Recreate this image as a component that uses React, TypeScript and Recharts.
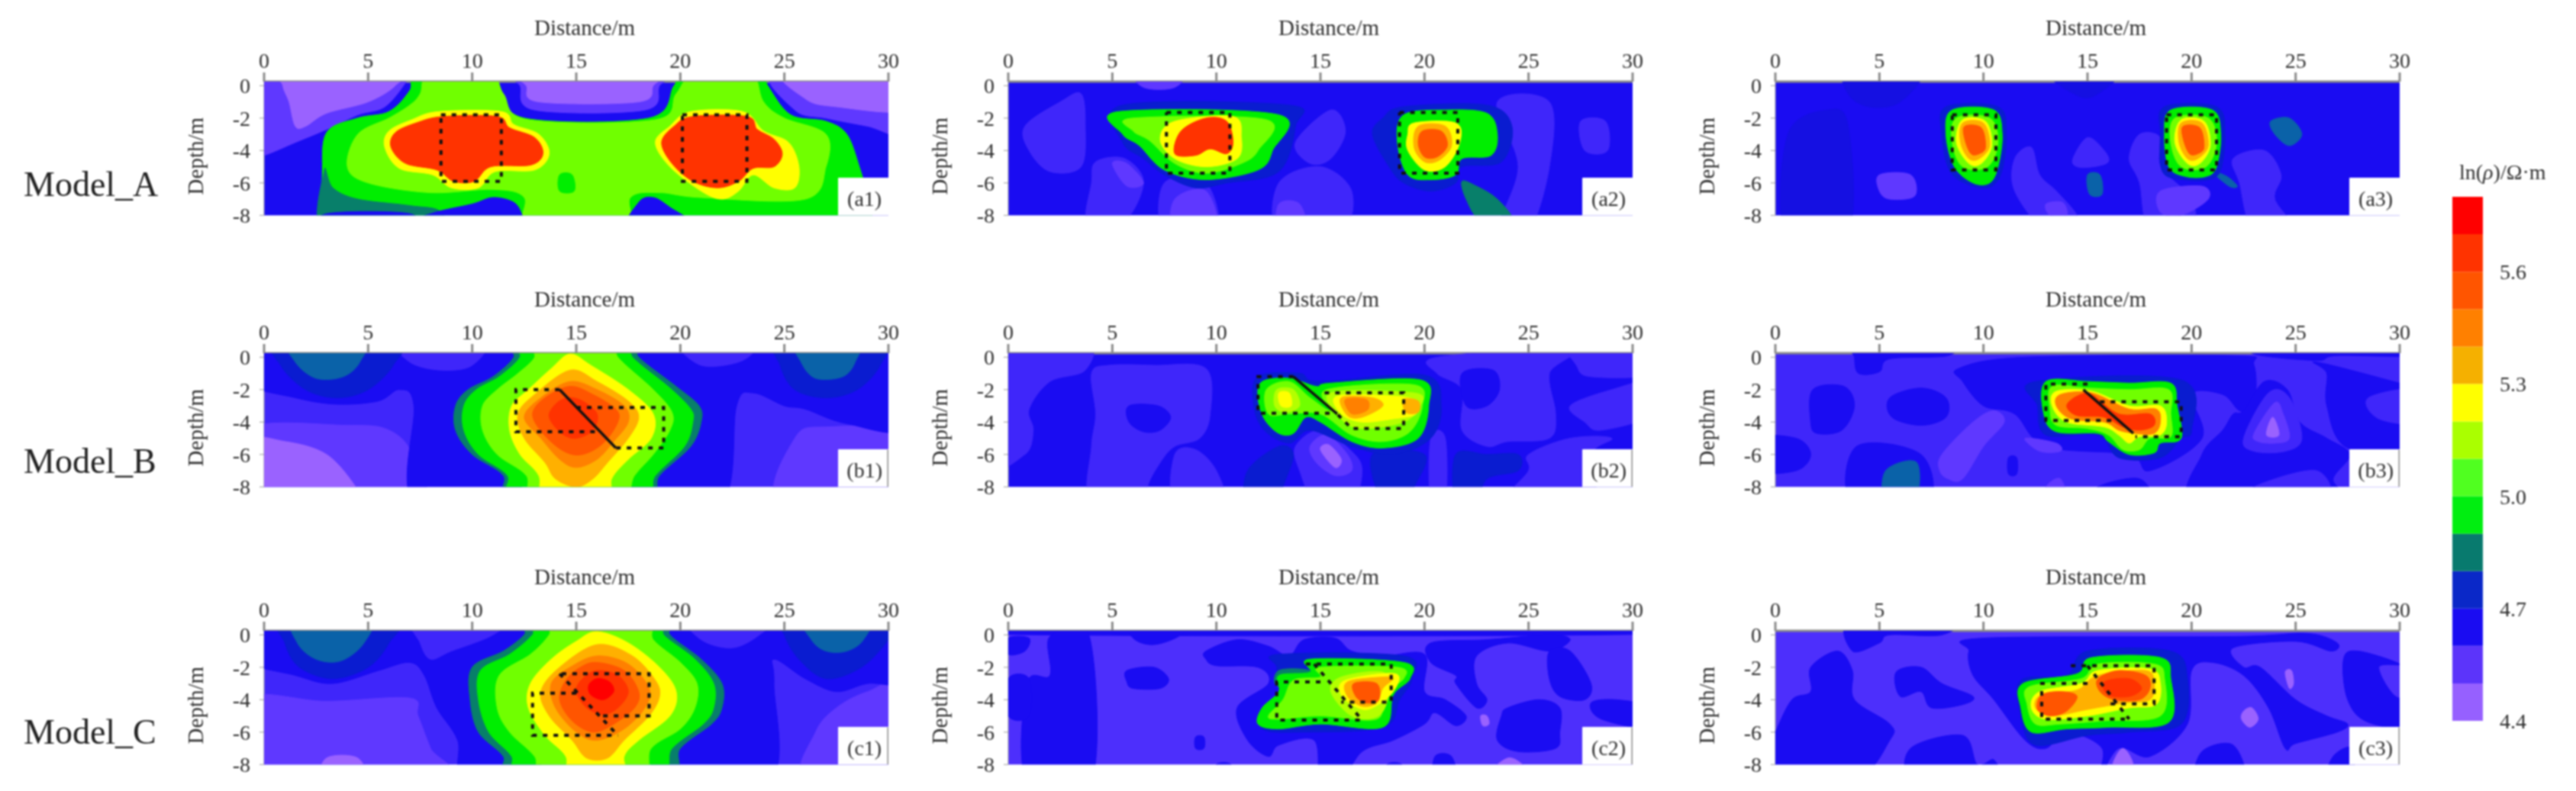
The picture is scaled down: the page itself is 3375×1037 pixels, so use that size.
import { Bar, BarChart, CartesianGrid, Scatter, ScatterChart, XAxis, YAxis } from "recharts";

// Colour levels of the contour maps, lowest to highest
const FILL: Record<string, string> = {
  v1: "#9a62ff",
  v2: "#5f38ff",
  v3: "#4d2ffc",
  m: "#3f26fa",
  b1: "#1a0cf2",
  b3: "#1510e2",
  b2: "#0a1cd0",
  t2: "#0a62a8",
  t: "#087f6a",
  g1: "#00ee00",
  g2: "#70ff00",
  g3: "#b4ff00",
  y: "#ffff00",
  a: "#ffb000",
  o: "#ff8000",
  r1: "#ff5500",
  r2: "#ff3300",
  r3: "#ff0000",
};

type Pt = number[];
type Ring = [string, Pt[]];

const xTicks = [0, 5, 10, 15, 20, 25, 30];
const yTicks = [0, -2, -4, -6, -8];
const colorbarColors = ["#9660ff", "#5c34fa", "#1a0cf2", "#0a28c8", "#087a6e", "#00ee10", "#50ff20", "#aaff00", "#ffff00", "#f5b000", "#ff8000", "#ff5500", "#ff3300", "#ff0000"];
const colorbarSteps = [4.5, 0.1, 0.1, 0.1, 0.1, 0.1, 0.1, 0.1, 0.1, 0.1, 0.1, 0.1, 0.1, 0.1];
const colorbarTicks = [4.4, 4.7, 5.0, 5.3, 5.6];
const modelNames = ["Model_A", "Model_B", "Model_C"];

const a1Rings: Ring[] = [
  ["v2", [[-1, 1], [7, 1], [6.8, 0.2], [5.8, -1.3], [4.5, -1.8], [3, -2.7], [1.5, -3.5], [0, -4.3], [-1, -4.5]]],
  ["v1", [[1, 1], [6.5, 1], [6.3, 0], [5, -1], [3, -1.7], [2, -2.5], [1.5, -2.5], [1.2, -1], [0.9, 0]]],
  ["v2", [[12, 1], [19.5, 1], [19, 0], [18.3, -1.5], [13, -1.5], [12.3, 0]]],
  ["v1", [[12.3, 1], [19, 1], [18.7, 0], [18, -1], [13.2, -1], [12.6, 0]]],
  ["v2", [[24.5, 1], [31, 1], [31, -3], [29, -2.5], [27, -2], [25.5, -1.5]]],
  ["v1", [[25, 1], [31, 1], [31, -1.5], [27.5, -1.3], [26, -0.8]]],
  ["g1", [[7.4, 1], [7, -0.3], [6, -1.6], [4.5, -2], [3, -2.9], [2.8, -5.5], [2.8, -8], [2.9, -9.5], [8, -10], [25, -10], [29, -9.5], [29, -7], [28.6, -5], [28, -3], [27, -2.2], [25.3, -1.8], [24.2, 0], [23.8, 1], [20.3, 1], [19.7, 0], [18.5, -2], [12.5, -2], [11.3, 0], [11, 1]]],
  ["g2", [[8, 1], [7.5, -0.5], [7, -1.2], [6, -2], [4.5, -3], [4, -5], [5, -6], [8, -6.6], [11, -6.4], [12.5, -6.9], [12.7, -9], [17.3, -9], [17.6, -6.9], [19, -6.6], [21, -6.9], [26, -7], [27, -5], [27, -3], [25, -2], [24, -1], [23.3, 1], [20.8, 1], [19.8, -0.5], [18.8, -2.1], [12.7, -2.1], [11.5, -0.5], [10.8, 1]]],
  ["g1", [[14.2, -5.5], [14.8, -5.5], [14.9, -6.5], [14.2, -6.5]]],
  ["t", [[2.9, -5.2], [3.3, -6.3], [4.5, -7], [7, -7.4], [8.5, -7.8], [8.5, -9.5], [3, -9.5]]],
  ["b1", [[6, -9], [8, -7.9], [10, -7.3], [11, -6.9], [12, -7.2], [12.4, -8], [12.6, -9]]],
  ["b1", [[3, -9], [3, -7.9], [7, -7.9], [7, -9]]],
  ["b1", [[17.5, -9], [18, -7.2], [18.7, -6.9], [19.5, -7.5], [21, -9]]],
  ["y", [[8.4, -1.6], [11.4, -1.6], [12, -2.4], [13.2, -3], [13.7, -4.2], [13, -5.2], [11.1, -5.3], [10.3, -6.3], [9, -6.3], [8.1, -5.5], [6.5, -5.1], [5.8, -3.8], [6, -2.8], [7.1, -2.1]]],
  ["r2", [[8.6, -1.9], [11.2, -1.9], [11.8, -2.6], [13, -3.2], [13.4, -4.2], [12.8, -4.9], [10.9, -5], [10.1, -5.9], [9.1, -5.9], [8.3, -5.2], [6.8, -4.8], [6.1, -3.8], [6.3, -2.9], [7.3, -2.3]]],
  ["y", [[20.5, -1.6], [23, -1.6], [24, -2.8], [25.2, -3.5], [25.7, -5], [25.5, -6.3], [24.5, -6.3], [23.5, -5.5], [22.8, -6.5], [22, -7], [21, -6.5], [19.5, -5], [18.8, -3.5], [19.5, -2.5]]],
  ["r2", [[20.6, -1.9], [23.2, -1.9], [23.7, -2.7], [24.5, -3.3], [24.9, -4.2], [24.5, -5], [23.5, -5.1], [22.8, -5.9], [21.8, -6.3], [20.6, -5.9], [19.6, -4.8], [19.1, -3.5], [19.7, -2.5]]],
];
const a1Boxes: Pt[][] = [
  [[8.5, -1.8], [11.4, -1.8], [11.4, -5.9], [8.5, -5.9], [8.5, -1.8]],
  [[20.1, -1.8], [23.2, -1.8], [23.2, -5.9], [20.1, -5.9], [20.1, -1.8]],
];

const a2Rings: Ring[] = [
  ["m", [[0.8, -2.5], [2.5, -1], [3.5, -0.5], [3.7, -2.5], [3.5, -5], [2, -5.3], [1, -4]]],
  ["m", [[4.2, -4.7], [5.6, -4.5], [6.5, -6], [5.5, -8.5], [3.8, -8.5], [4, -6]]],
  ["m", [[7.5, -6], [9.5, -6], [10, -9], [7.5, -9]]],
  ["m", [[13.8, -3.5], [15.5, -1.5], [16.2, -2.8], [15.5, -4.5], [14.5, -4.8]]],
  ["m", [[13, -6], [15, -5], [16.5, -6.5], [16, -9], [13, -9]]],
  ["m", [[23.5, -1], [26, -1], [26, -5], [25, -9], [23.5, -9], [24.5, -5]]],
  ["m", [[27.5, -2.2], [28.7, -2.2], [28.8, -4], [27.7, -4]]],
  ["v2", [[6, 1], [8.5, 1], [8, -0.1], [6.5, -0.1]]],
  ["v2", [[5, -4.8], [5.7, -4.8], [6.5, -6], [5.7, -6.2]]],
  ["v2", [[8, -7], [9.5, -6.5], [10, -9], [8, -9]]],
  ["v2", [[13, -7.3], [14, -7.3], [14.3, -9], [13, -9]]],
  ["b2", [[5.5, -1.2], [13.5, -1.2], [13.8, -2.5], [13, -5.3], [10.5, -6], [9, -6.3], [7.5, -5.5], [6.5, -4.5], [5.5, -3.5]]],
  ["g1", [[5.3, -1.6], [13, -1.8], [12.7, -4], [12, -5.2], [9.5, -5.8], [7.5, -5.2], [6.3, -3.7], [5.5, -3]]],
  ["g2", [[6, -2], [12.4, -2.1], [12, -4], [11.2, -4.8], [9.5, -5.4], [8, -4.8], [6.8, -3.4], [6, -2.8]]],
  ["y", [[8, -2.2], [10.8, -1.9], [11.2, -3.2], [11, -4.5], [9.5, -5], [8, -4.5], [7.3, -3.3]]],
  ["r2", [[8.3, -2.8], [9.5, -2], [10.5, -2.2], [10.8, -3.5], [10.5, -4.2], [9.7, -3.9], [9, -4.3], [8, -4.2]]],
  ["b2", [[19, -1.3], [23, -1.2], [24.2, -2.5], [23.7, -4.7], [21.8, -5], [21.5, -6], [20.3, -6.5], [19, -6], [18.3, -5], [17.5, -3], [18, -2]]],
  ["g1", [[19, -1.8], [21, -1.5], [23, -1.7], [23.5, -3], [23.2, -4.3], [21.8, -4.5], [21.5, -5.5], [20.3, -5.8], [19.2, -5.5], [18.7, -3.5]]],
  ["y", [[19.5, -2.3], [21.5, -2.3], [21.7, -3.5], [21, -5], [20, -5.2], [19.2, -4], [19.2, -3]]],
  ["a", [[19.7, -2.5], [21, -2.5], [21.3, -3.7], [20.7, -4.6], [20, -4.7], [19.5, -3.8]]],
  ["r1", [[19.9, -2.8], [20.8, -2.8], [21.1, -3.7], [20.6, -4.4], [20, -4.4], [19.7, -3.6]]],
  ["t", [[21.8, -5.9], [22.5, -6.2], [23.5, -7], [24.2, -8.3], [22.7, -8.3], [22, -7]]],
];
const a2Boxes: Pt[][] = [
  [[7.6, -1.65], [10.65, -1.65], [10.65, -5.4], [7.6, -5.4], [7.6, -1.65]],
  [[18.8, -1.65], [21.6, -1.65], [21.6, -5.4], [18.8, -5.4], [18.8, -1.65]],
];

const a3Rings: Ring[] = [
  ["b3", [[3.5, 1], [7, 1], [6, -1], [4.5, -1.3], [3.5, -0.5]]],
  ["b3", [[13, 1], [16.5, 1], [15.5, -0.5], [14.5, -0.6]]],
  ["b3", [[0.6, -3], [2.5, -1.5], [3.5, -2.5], [3.5, -9], [0.5, -9]]],
  ["m", [[14.3, -4.5], [15, -3.2], [15.8, -4], [16, -4.7], [15.3, -5], [14.5, -5]]],
  ["m", [[17, -4.5], [17.5, -3], [18.5, -3.2], [18.5, -5], [20, -7], [20, -9], [18, -9], [17.5, -6]]],
  ["m", [[22, -4.5], [23.5, -4], [24.3, -5.5], [24, -7], [25, -9], [23, -9], [22.3, -6]]],
  ["m", [[11.5, -4.5], [12.3, -3.8], [12.7, -5.5], [13.5, -6.5], [14.5, -8], [14.5, -9], [13, -9], [11.5, -6.5]]],
  ["v2", [[5, -5.5], [6.5, -5.5], [6.7, -6.8], [5.5, -7], [5, -6.5]]],
  ["v2", [[18.5, -6.5], [20.5, -6.2], [20.8, -7], [19.5, -8], [18.5, -7.8]]],
  ["v2", [[13, -7.3], [13.8, -7.2], [14, -8], [13.2, -8]]],
  ["t2", [[23.8, -2.2], [24.7, -2], [25.3, -3], [24.7, -3.7], [24, -3]]],
  ["t2", [[15, -5.5], [15.6, -5.5], [15.7, -6.7], [15.1, -6.7]]],
  ["t2", [[21, -5.3], [21.7, -5.6], [22.2, -6.2], [21.8, -6.2]]],
  ["b2", [[8.2, -1.3], [10.7, -1.3], [11.1, -3], [10.9, -5.2], [10.4, -6.2], [9.5, -6.2], [8.4, -5.3], [8, -3]]],
  ["g1", [[8.5, -1.5], [10.5, -1.5], [10.9, -3], [10.7, -5], [10.3, -6], [9.5, -6], [8.6, -5], [8.2, -3]]],
  ["g2", [[8.7, -2], [10.3, -2], [10.7, -3.5], [10.2, -5], [9, -5], [8.5, -3.5]]],
  ["y", [[9, -2.1], [10.1, -2.2], [10.4, -3.7], [9.9, -4.8], [9.3, -4.8], [8.7, -3.5]]],
  ["a", [[9, -2.3], [10, -2.3], [10.3, -3.7], [9.8, -4.5], [9.3, -4.5], [8.9, -3.5]]],
  ["r1", [[9.1, -2.5], [9.9, -2.6], [10.1, -3.8], [9.8, -4.2], [9.4, -4.2], [9.1, -3.3]]],
  ["b2", [[18.7, -1.3], [21.2, -1.3], [21.6, -3], [21.4, -5.2], [20.8, -5.8], [19.6, -5.8], [18.6, -5.3], [18.5, -3]]],
  ["g1", [[19, -1.5], [21, -1.5], [21.4, -3], [21.2, -5], [20.7, -5.6], [19.7, -5.6], [18.9, -5], [18.7, -3]]],
  ["g2", [[19.2, -2], [20.8, -2], [21.2, -3.5], [20.7, -5], [19.5, -5], [19, -3.5]]],
  ["y", [[19.5, -2.1], [20.6, -2.2], [20.9, -3.7], [20.4, -4.8], [19.8, -4.8], [19.2, -3.5]]],
  ["a", [[19.5, -2.3], [20.5, -2.3], [20.8, -3.7], [20.3, -4.5], [19.8, -4.5], [19.4, -3.5]]],
  ["r1", [[19.6, -2.5], [20.4, -2.6], [20.6, -3.8], [20.3, -4.2], [19.9, -4.2], [19.6, -3.3]]],
];
const a3Boxes: Pt[][] = [
  [[8.5, -1.8], [10.6, -1.8], [10.6, -5.2], [8.5, -5.2], [8.5, -1.8]],
  [[18.8, -1.8], [21.2, -1.8], [21.2, -5.2], [18.8, -5.2], [18.8, -1.8]],
];

const b1Rings: Ring[] = [
  ["v2", [[-1, -4.5], [4, -4.2], [6, -4.5], [7.1, -6], [7.2, -9], [-1, -9]]],
  ["v2", [[24.8, -9], [25.5, -5], [27, -4.3], [31, -4.8], [31, -9]]],
  ["v1", [[-1, -5.2], [1, -5.2], [3, -6], [4.4, -8], [4.6, -9], [-1, -9]]],
  ["b1", [[-1, 1], [12, 1], [12, -9], [7.2, -9], [7.2, -3], [6.5, -2], [5.5, -2.7], [3.5, -2.9], [1.5, -2.5], [-1, -1.5]]],
  ["b1", [[18, 1], [31, 1], [31, -4.3], [28, -4.1], [26, -3.2], [25, -3], [23.5, -2.2], [22.7, -3], [22, -9], [18, -9]]],
  ["m", [[6.5, 1], [10.5, 1], [10, -0.5], [8.5, -0.8], [7, -0.3]]],
  ["m", [[20, 1], [23.5, 1], [23, -0.2], [21, -0.5]]],
  ["b2", [[0.7, 1], [6.3, 1], [6.2, -0.5], [5, -2], [3.5, -2.5], [2, -2], [0.8, -0.5]]],
  ["t2", [[1.3, 1], [4.7, 1], [4.6, -0.3], [3.8, -1.2], [2.5, -1.3], [1.5, -0.3]]],
  ["b2", [[24.8, 1], [29.6, 1], [29.6, -0.5], [28.5, -2], [27, -2.5], [25.5, -2], [24.8, -0.5]]],
  ["t2", [[25.6, 1], [28.5, 1], [28.4, -0.3], [27.8, -1.2], [26.5, -1.3], [25.8, -0.3]]],
  ["t", [[12, 1], [17.7, 1], [18, 0], [19.8, -1.8], [20.9, -3], [21, -4], [20.5, -5.5], [19, -7.3], [18.2, -9], [11.9, -9], [11.5, -7.3], [10, -6], [9.2, -4.5], [9.2, -3], [9.8, -2], [11, -1.2], [12, 0]]],
  ["g1", [[12.3, 1], [17.5, 1], [17.7, 0], [19.5, -1.9], [20.5, -3.2], [20.6, -4], [20.2, -5.5], [18.8, -7.3], [18, -9], [12, -9], [11.7, -7.3], [10.3, -6], [9.6, -4.5], [9.6, -3], [10.2, -2], [11.3, -1.2], [12.3, 0]]],
  ["g2", [[13, 1], [16.8, 1], [17, 0], [18.7, -2], [19.6, -3.4], [19.5, -4.5], [18.7, -6], [17.8, -7.3], [17, -9], [13, -9], [12.6, -7.3], [11.2, -6], [10.5, -4.5], [10.5, -3], [11.2, -2], [12.2, -1], [13, 0]]],
  ["y", [[14.7, 0.2], [15.7, -0.5], [17.5, -2], [18.7, -3.5], [18.6, -5], [17.5, -6.3], [16.7, -7.5], [16.5, -9], [13.5, -9], [13.2, -7.3], [12.3, -6], [11.8, -4.5], [11.9, -3], [12.7, -2], [13.8, -0.7]]],
  ["a", [[14.7, -0.8], [16, -1.5], [17.5, -2.7], [18, -3.7], [17.5, -5], [16.5, -6.5], [15.8, -7.5], [15, -8], [14, -7.5], [13.5, -6.5], [12.5, -5], [12.2, -3.5], [13, -2.3]]],
  ["o", [[14.7, -1.5], [16, -2], [17.3, -3], [17.5, -4], [16.8, -5.2], [16, -6.3], [15, -6.8], [14.2, -6.3], [13.3, -5], [12.5, -3.7], [13.3, -2.5]]],
  ["r1", [[14.7, -1.8], [15.8, -2.3], [16.9, -3.2], [17, -4], [16.3, -5.3], [15.3, -6], [14.4, -5.8], [13.4, -4.7], [12.9, -3.5], [13.5, -2.5]]],
  ["r2", [[14.6, -2.5], [15.3, -2.7], [16, -3.5], [15.8, -4.5], [15, -5], [14.3, -4.7], [13.7, -3.7], [14, -2.9]]],
];
const b1Boxes: Pt[][] = [
  [[14.2, -2], [12.1, -2], [12.1, -4.6], [16.1, -4.6]],
  [[15, -3.1], [19.2, -3.1], [19.2, -5.6], [16.9, -5.6]],
];
const b1Faults: Pt[][] = [[[14.2, -2], [16.9, -5.6]]];

const b2Rings: Ring[] = [
  ["m", [[-1, 1], [3.7, 1], [3.7, -0.8], [2, -1.5], [1, -3.2], [1.2, -4.5], [0.8, -6], [-1, -6.5]]],
  ["m", [[4, -1], [4.8, -0.5], [7, -0.5], [9.5, -0.7], [9.7, -3.5], [9.2, -5], [8, -5.5], [7.3, -6.5], [6.7, -8], [7, -9], [4, -9], [4, -5.5], [4.2, -3.5]]],
  ["b1", [[5.8, -3], [7.2, -3], [7.8, -3.7], [7.3, -4.5], [6.5, -4.6], [5.8, -4]]],
  ["m", [[8, -6], [9, -5.7], [10, -7], [10.3, -9], [8, -9]]],
  ["m", [[20.6, 0], [27, 0.5], [26, -1], [26.3, -3.5], [26, -5], [24, -5.2], [23, -5.5], [21.8, -4.5], [21.8, -2], [20.6, -1]]],
  ["b1", [[21.8, -1], [23.3, -0.8], [23.6, -2], [23, -3], [22, -3]]],
  ["m", [[27, 1], [31, 1], [31, -1], [28, -1.2], [27.3, -0.5]]],
  ["m", [[27, -3], [29, -2], [31, -1.5], [31, -3.5], [28.5, -4.5], [27.7, -4]]],
  ["m", [[25, -6], [27, -5], [29, -5], [28, -6], [28, -9], [24, -9], [25, -7]]],
  ["m", [[20.3, -5], [21, -5], [21, -9], [20.3, -9]]],
  ["m", [[13.8, -5.5], [15, -4.5], [16.5, -5.8], [17, -7], [16.5, -9], [14.8, -9], [14, -7]]],
  ["v2", [[14.5, -5.5], [15.3, -4.8], [16.3, -6], [16.5, -7], [15.7, -7.3], [14.8, -6.5]]],
  ["v1", [[15, -5.7], [15.4, -5.4], [16, -6.3], [15.7, -6.8]]],
  ["b2", [[11.5, -7], [13, -5.5], [13.7, -6], [13.2, -8], [13, -9], [11.5, -9]]],
  ["b2", [[17.5, -6], [20, -6], [19.5, -8], [19, -9], [18, -9]]],
  ["b2", [[21.5, -6], [23, -6], [24.5, -6], [24.5, -7], [23, -7.5], [22.5, -9], [21.5, -9]]],
  ["b2", [[12, -1.2], [14, -1], [15, -1.5], [20, -1.1], [20.8, -3], [20.3, -5], [18.5, -6], [16.5, -5.5], [14.5, -4.5], [13.5, -5.3], [12.3, -4.5], [11.8, -3]]],
  ["g1", [[12.2, -1.5], [13.5, -1.3], [14.8, -1.8], [15.5, -1.6], [19.8, -1.4], [20.2, -3], [19.7, -5], [18, -5.6], [16.5, -5.2], [15, -4], [14.3, -3.7], [13.7, -4.7], [13, -4.7], [12.3, -3.8], [12, -2.5]]],
  ["g2", [[12.4, -2], [13.5, -1.5], [14.5, -2.5], [15.5, -3.3], [15.3, -2], [19.5, -1.7], [19.9, -3], [19.3, -4.6], [18, -5.2], [16.5, -4.8], [15, -3.5], [13.5, -3.5], [12.5, -3.5]]],
  ["g3", [[12.9, -2], [13.7, -2], [14, -3], [13.3, -3.4], [12.8, -3]]],
  ["y", [[13, -2.2], [13.5, -2.2], [13.6, -3], [13.1, -3]]],
  ["g3", [[15.5, -2.2], [19.5, -2.2], [19.8, -3], [19, -4], [17, -4.4], [16, -3.8]]],
  ["y", [[15.8, -2.4], [18.5, -2.4], [19.6, -2.7], [19.6, -3.5], [18.5, -3.8], [17, -4], [16, -3.5]]],
  ["a", [[16, -2.5], [17.5, -2.5], [18, -3], [17, -3.7], [16.3, -3.6]]],
  ["o", [[16.2, -2.6], [17.2, -2.6], [17.3, -3.2], [16.8, -3.5], [16.4, -3.4]]],
  ["a", [[19, -2.6], [19.7, -2.7], [19.7, -3.4], [19.1, -3.4]]],
];
const b2Boxes: Pt[][] = [
  [[13.7, -1.2], [12, -1.2], [12, -3.45], [15.8, -3.45]],
  [[15.2, -2.2], [19, -2.2], [19, -4.4], [16.5, -4.4], [15.8, -3.5]],
];
const b2Faults: Pt[][] = [[[13.7, -1.2], [15.8, -3.5]]];

const b3Rings: Ring[] = [
  ["b1", [[8.8, -0.7], [12, 0], [22, 0.1], [23, -0.5], [23, -3.2], [22.3, -3.3], [21.5, -2.3], [20, -2.3], [20.5, -5], [18, -7], [17, -6], [13, -5.5], [11.5, -3.5], [10, -3], [9, -1.5]]],
  ["b1", [[3.8, 1], [8.5, 1], [8.3, 0.1], [5.5, -0.1], [5, -0.9], [4, -1], [3.8, 0]]],
  ["b1", [[23, 1], [31, 1], [31, 0.1], [27, 0.1], [26, -0.2], [23, 0.2]]],
  ["b1", [[26, -0.3], [30, -1.6], [31, -2], [31, -5.8], [27.5, -5.6], [26.5, -3], [26.5, -1]]],
  ["m", [[28.5, -2.5], [31, -2], [31, -4], [29, -3.8]]],
  ["b1", [[22.5, -3.3], [23.5, -1.5], [24.6, -2], [25.2, -4], [26.5, -5], [27.6, -6], [26.8, -7.5], [27, -9], [20.2, -9], [20.5, -6], [21.5, -4.5], [22, -3.5]]],
  ["m", [[23, -8], [26, -7], [26.5, -9], [22.8, -9]]],
  ["m", [[22.5, -5], [23.7, -2.2], [24.7, -2.5], [25.3, -5], [24.5, -5.8], [23, -5.8]]],
  ["v2", [[23, -4.7], [24, -2.8], [24.4, -3.5], [24.7, -5], [24, -5.3], [23.2, -5.2]]],
  ["v1", [[23.6, -4.8], [23.9, -3.7], [24.2, -4.8]]],
  ["b1", [[1.8, -2], [3.3, -1.8], [3.8, -3], [3.2, -4.5], [2, -4.7], [1.7, -4]]],
  ["b1", [[5.5, -2.5], [7, -1.9], [8.2, -2.5], [8.2, -3.7], [7, -4.2], [5.6, -3.7]]],
  ["b1", [[-1, -5], [1, -5], [1.7, -6], [1, -7], [-1, -7]]],
  ["b1", [[3.9, -5.5], [7, -6], [7.3, -9], [3.7, -9]]],
  ["t2", [[5.3, -7], [6.8, -6.5], [6.7, -9], [5.3, -9]]],
  ["b1", [[11.2, -6.2], [11.6, -6.2], [11.6, -7.2], [11.2, -7.2]]],
  ["b1", [[15.5, -8], [17.5, -7.5], [18, -9], [15.5, -9]]],
  ["v2", [[8, -6], [9.5, -4], [10.5, -3.3], [11, -4], [10, -5.5], [9, -7.5], [8.3, -7.5], [7.9, -7]]],
  ["v2", [[12, -5], [13.5, -5.3], [13.7, -5.8], [12.7, -5.8]]],
  ["v2", [[13, -8], [13.7, -7.5], [14, -9], [13, -9]]],
  ["b2", [[12.5, -1.5], [19.5, -1.4], [20, -4.5], [19.5, -5], [18.5, -6.2], [16.5, -6.2], [15.5, -4.8], [13, -4.8], [12.6, -3]]],
  ["g1", [[13, -1.5], [15, -1.5], [17, -1.6], [19, -1.6], [19.3, -3], [19.5, -5], [18.5, -5.3], [18.2, -5.9], [17, -6], [16, -5.2], [15.5, -4.7], [13.5, -4.6], [12.9, -3.5]]],
  ["g2", [[13.3, -1.8], [15, -1.9], [17, -2], [18.9, -2], [19, -3.5], [19, -4.9], [18, -5], [17.5, -5.7], [16.7, -5.7], [16, -4.8], [15, -4.4], [13.5, -4.2], [13.2, -3.2]]],
  ["y", [[13.5, -2.1], [15.2, -2.1], [17, -3], [18.5, -3], [18.8, -4], [18.5, -4.8], [17.5, -4.9], [17, -5.3], [16.5, -4.8], [15.8, -4.3], [14, -4], [13.3, -3]]],
  ["o", [[13.7, -2.3], [15.2, -2.2], [17, -3.2], [18.3, -3.2], [18.5, -4], [18.2, -4.7], [17.3, -4.7], [16.5, -4.5], [15.8, -4], [14.2, -3.8], [13.5, -3]]],
  ["r2", [[14.5, -2.4], [15.2, -2.3], [16.5, -3.5], [18, -3.5], [18.2, -4.2], [17.5, -4.5], [16.7, -4.3], [15.8, -3.7], [14.5, -3.6], [14, -3]]],
];
const b3Boxes: Pt[][] = [
  [[15, -1.65], [13, -1.65], [13, -3.9], [16.2, -3.9]],
  [[15.6, -2.75], [19.5, -2.75], [19.5, -4.9], [17.3, -4.9]],
];
const b3Faults: Pt[][] = [[[14.8, -2], [17.2, -4.7]]];

const c1Rings: Ring[] = [
  ["v2", [[-1, -4], [3, -4.1], [7, -3.9], [7.4, -5], [8, -7], [8.7, -9], [-1, -9]]],
  ["v1", [[3, -7.6], [4.5, -7.6], [4.8, -9], [2.8, -9]]],
  ["v2", [[26, -9], [26.5, -6], [27.5, -4.5], [29, -3.5], [31, -3], [31, -9]]],
  ["b1", [[-1, 1], [13, 1], [13, -9], [9.6, -9], [9.3, -6.5], [8.3, -4.5], [7.7, -2.5], [7, -1.7], [5.5, -2.2], [3.3, -3], [1.5, -2.5], [-1, -1.5]]],
  ["m", [[7.3, 1], [11.5, 1], [11, 0], [9, -1], [8, -1.5], [7.5, -0.5]]],
  ["b2", [[1, 1], [6.3, 1], [6, -0.5], [5, -2], [3.3, -2.7], [1.7, -2], [1, -0.5]]],
  ["t2", [[1.5, 1], [5, 1], [4.8, -0.5], [3.7, -1.6], [2.5, -1.5], [1.6, -0.5]]],
  ["b1", [[19, 1], [31, 1], [31, -2.8], [29, -3], [27.5, -3.5], [26, -2.7], [24.5, -1.5], [24.5, -3], [24.3, -9], [19, -9]]],
  ["m", [[20.5, 1], [24.3, 1], [23.8, 0], [22.5, -0.8], [21, -0.3]]],
  ["b2", [[25, 1], [30.5, 1], [30, -0.3], [28.7, -2], [27, -2.7], [25.7, -1.5], [25, 0]]],
  ["t2", [[26, 1], [29, 1], [28.8, -0.3], [28, -1], [27, -1], [26.3, -0.3]]],
  ["t", [[13, 1], [19.3, 1], [19.5, 0], [21, -1.5], [22, -3], [22, -4.5], [21.5, -5.5], [20, -7], [19.2, -9], [11.9, -9], [11.5, -7.5], [10.3, -6], [9.9, -4], [10, -2], [11.5, -1], [12.5, 0]]],
  ["g1", [[13.3, 1], [19, 1], [19.2, 0], [20.7, -1.5], [21.6, -3], [21.6, -4.5], [21.1, -5.5], [19.6, -7], [18.7, -9], [12.3, -9], [11.9, -7.5], [10.8, -6], [10.3, -4], [10.4, -2.2], [11.8, -1.2], [12.9, 0]]],
  ["g2", [[14, 1], [18.3, 1], [18.7, -0.3], [20, -1.7], [20.8, -3], [20.7, -4.5], [20, -5.8], [18.6, -7], [18, -9], [13.5, -9], [13, -7.5], [11.8, -6], [11.2, -4.5], [11.3, -2.5], [12.8, -1.2], [13.7, 0]]],
  ["y", [[16, 0.2], [17.5, -0.5], [19, -2], [19.8, -3.5], [19.5, -5], [18, -6.5], [17.3, -7.5], [17.3, -9], [14.7, -9], [14.5, -7.5], [13.5, -6.2], [12.7, -4.5], [12.8, -3], [13.8, -1.5], [15, -0.4]]],
  ["a", [[16, -0.6], [17.7, -1.3], [18.8, -2.8], [19, -3.8], [18.5, -5], [17.3, -6.5], [16.5, -7.6], [15.5, -7.6], [14.8, -6.5], [13.7, -5], [13.3, -3.5], [14.2, -2]]],
  ["o", [[16, -1.3], [17.5, -1.8], [18.5, -3.3], [18.3, -4.5], [17.3, -5.8], [16, -6.5], [15, -6], [14, -4.5], [13.8, -3], [14.7, -2]]],
  ["r1", [[16, -1.7], [17.3, -2.2], [18, -3.5], [17.8, -4.5], [16.8, -5.5], [15.8, -6], [14.8, -5.3], [14.2, -4], [14.5, -2.8], [15.2, -2]]],
  ["r2", [[16, -2.2], [17, -2.5], [17.5, -3.5], [17, -4.5], [16.3, -4.9], [15.5, -4.5], [15, -3.5], [15.3, -2.7]]],
  ["r3", [[16, -2.7], [16.6, -2.9], [16.8, -3.5], [16.3, -4], [15.7, -3.7], [15.6, -3.1]]],
];
const c1Boxes: Pt[][] = [
  [[14.3, -2.4], [18.5, -2.4], [18.5, -5], [16, -5]],
  [[15, -3.6], [12.9, -3.6], [12.9, -6.2], [17, -6.2]],
  [[14.2, -2.4], [17, -6.2]],
];

const c2Rings: Ring[] = [
  ["b1", [[-1, 1], [31, 1], [31, 0.05], [-1, 0.05]]],
  ["b1", [[2, -0.1], [3.9, -0.1], [4, -9], [0.9, -9], [0.9, -3], [2, -2.5]]],
  ["b1", [[0, -0.2], [1, -0.2], [0.8, -1], [0, -1.2]]],
  ["b1", [[0, -2.7], [1, -2.7], [1, -5], [0, -5]]],
  ["b1", [[5.8, 1], [8.7, 1], [8.3, 0], [7, -0.6], [6, -0.2]]],
  ["b1", [[5.7, -2.2], [7, -2], [7.7, -2.7], [7.3, -3.3], [6, -3.3], [5.7, -2.9]]],
  ["b1", [[9.5, -1], [11, -0.3], [12.5, -0.7], [13.5, -1.3], [14.2, -0.3], [15.7, -0.2], [16.5, -1], [18, -1.3], [20, -1.2], [20, -3.5], [21, -4], [22, -5], [21.5, -5.6], [20.5, -4.8], [20, -5.5], [18.5, -6.5], [17, -7.2], [16, -9], [15, -9], [14.7, -6.5], [13, -6.8], [12.5, -7.5], [11.5, -6.5], [11, -4.5], [12.5, -3], [12, -2], [10, -1.9], [9.5, -1.5]]],
  ["b1", [[20.3, -0.5], [23, -0.3], [26, 0], [27, -0.3], [26, -1], [24, -0.5], [22.5, -1.3], [22.5, -3], [23, -4], [22.5, -4.5], [21.5, -3], [21.5, -2.5], [20.3, -1.7]]],
  ["b1", [[26, -1], [27, -1], [28, -3], [27.7, -4], [26.5, -3.8], [26, -2.7]]],
  ["b1", [[28, -4.2], [29.2, -4], [31, -4.5], [31, -5.8], [28.5, -5.2]]],
  ["b1", [[24, -4.5], [25.5, -4], [26.5, -4.5], [26.5, -6], [26.3, -7], [24.5, -7.2], [23.5, -6.5], [23.7, -5]]],
  ["b1", [[20.5, -7.5], [21.3, -7.5], [21.5, -9], [20.5, -9]]],
  ["b1", [[10, -8], [10.7, -8], [10.7, -9], [10, -9]]],
  ["b1", [[18.2, -8], [18.9, -8], [18.9, -9], [18.2, -9]]],
  ["b1", [[9, -6.3], [9.4, -6.3], [9.4, -7], [9, -7]]],
  ["v1", [[23, -9], [24, -7.6], [25, -8.3], [25.5, -9]]],
  ["v1", [[22.7, -5], [23, -5], [23.1, -5.5], [22.8, -5.6]]],
  ["b2", [[13, -1.2], [19, -1.3], [19.4, -2.7], [18.8, -4], [18, -5.7], [14, -6], [12.2, -5.8], [12.3, -4.5], [13, -3.5], [12.9, -2]]],
  ["t", [[13, -2.2], [14.5, -2.2], [15, -3], [13, -3.2]]],
  ["g1", [[14.5, -1.5], [19, -1.7], [19.3, -2.7], [18.5, -3.7], [18, -5.7], [15, -5.5], [13, -5.8], [12, -5.5], [12.2, -4.5], [13, -3.5], [13, -2.5], [14.5, -2.3]]],
  ["g2", [[15, -2], [18.7, -2], [19, -2.7], [18, -3.7], [17.7, -5.2], [15, -5], [13, -5.2], [12.5, -5], [13.2, -4], [13.7, -2.8], [15, -2.6]]],
  ["g3", [[16, -2.6], [18, -2.3], [18.3, -3.5], [17.8, -5], [16.5, -5], [15.5, -3.5]]],
  ["y", [[16.2, -2.8], [18.6, -2.4], [18.5, -3.5], [17.5, -4.5], [16.8, -4.5], [16, -3.7]]],
  ["a", [[16.3, -2.9], [18, -2.6], [18.5, -2.7], [18, -3.3], [17.7, -4.2], [17, -4.4], [16.3, -3.8]]],
  ["r1", [[16.6, -3], [17.7, -3], [17.8, -4], [17.2, -4.2], [16.7, -3.8]]],
];
const c2Boxes: Pt[][] = [
  [[14.3, -1.8], [18.4, -1.8], [18.4, -4.15], [16, -4.15]],
  [[15, -2.9], [12.9, -2.9], [12.9, -5.25], [17, -5.25]],
  [[14.7, -1.8], [17, -5.25]],
];

const c3Rings: Ring[] = [
  ["b1", [[3.7, 1], [8.7, 1], [8, 0], [5.5, 0], [5, -0.5], [3.7, -1]]],
  ["b1", [[9.3, -1], [10, -0.2], [22, -0.1], [25.5, 0.1], [27, -0.5], [26.7, -1], [25, -0.4], [22, -0.8], [22.5, -2], [23.3, -2], [25, -4], [26.5, -5], [27.5, -5.5], [27, -6], [25, -6.7], [24.5, -7], [23.7, -4.5], [22.5, -2.5], [21, -1.7], [20, -2.2], [19.8, -5.5], [18, -7.5], [16.5, -7], [15.5, -9], [15.7, -7], [14, -6], [13, -7], [12, -6.5], [10.5, -4], [9.5, -2.5]]],
  ["b1", [[1.7, -2], [3, -1], [3.7, -2.2], [3.8, -4], [5.5, -5.5], [5.5, -6.5], [3.7, -9], [-1, -9], [0, -6], [0.8, -4], [1.7, -3.5]]],
  ["b1", [[5.8, -2.3], [7, -2], [8, -3], [9.5, -3.8], [9, -4.3], [7.5, -4.5], [7, -3.5], [6, -3.8]]],
  ["b1", [[6.5, -7], [9, -6.2], [9.7, -8], [10.5, -7.7], [10.5, -9], [6.7, -9]]],
  ["b1", [[20.5, -7.2], [22, -6.8], [22.5, -9], [20.3, -9]]],
  ["b1", [[26.5, -9], [26.8, -7.5], [27.7, -7], [27.7, -9]]],
  ["b1", [[28, -1], [30, -1.8], [29, -2], [29.8, -3.8], [31, -4], [31, -5.8], [28.5, -5.4], [27.5, -4], [27.3, -1.5]]],
  ["v1", [[22.5, -4.7], [22.9, -4.5], [23.2, -5.2], [22.8, -5.7], [22.4, -5.2]]],
  ["v1", [[16.2, -8], [16.7, -7], [17.2, -8], [17, -9], [16.2, -9]]],
  ["v1", [[24.5, -2.3], [24.8, -2.2], [24.9, -3], [24.7, -3.3]]],
  ["b2", [[11.8, -2.8], [14, -2.5], [15, -1], [19, -1], [19.8, -2.7], [19.5, -5.5], [17, -6], [15, -6.2], [12.5, -6.8], [11.8, -5]]],
  ["g1", [[11.9, -3], [14.5, -2.4], [15.2, -1.4], [18.5, -1.4], [19, -2.7], [18.9, -5.4], [16, -5.7], [14, -5.8], [12.3, -6], [11.8, -4.5]]],
  ["g2", [[12.2, -3.2], [14.7, -2.7], [15.5, -1.8], [18.2, -1.8], [18.7, -2.7], [18.5, -5], [15.8, -5.3], [13.7, -5.5], [12.5, -5.5], [12.1, -4.3]]],
  ["y", [[12.7, -3.5], [14.7, -3], [15.5, -2.2], [18, -2.1], [18.5, -3], [18.3, -4.3], [17, -4.5], [15, -5], [13, -5.2], [12.3, -4.5]]],
  ["a", [[12.8, -3.7], [14.5, -3.4], [15.5, -2.5], [17.8, -2.2], [18.2, -3], [18, -4], [16.8, -4.2], [15, -4.6], [13.3, -5], [12.5, -4.5]]],
  ["r1", [[12.8, -3.7], [13.8, -3.5], [14.5, -3.8], [14, -4.7], [13.2, -5], [12.6, -4.6]]],
  ["r1", [[15.5, -2.7], [16.5, -2.2], [17.8, -2.5], [18, -3.3], [17.5, -4], [16.3, -4], [15.6, -3.5]]],
  ["r2", [[15.8, -2.9], [17, -2.7], [17.6, -3.3], [17, -3.8], [16, -3.7]]],
];
const c3Boxes: Pt[][] = [
  [[14.2, -1.9], [18.2, -1.9], [18.2, -4.25], [16, -4.25]],
  [[15, -3], [12.8, -3], [12.8, -5.2], [16.8, -5.2]],
  [[15, -1.9], [17, -5.2]],
];

const serif = "'Liberation Serif', 'Times New Roman', serif";
const textColor = "#2e2e2e";
const noMark = () => <g />;
const toPoints = (pts: Pt[]) => pts.map(([x, y]) => ({ x, y }));

// closed curve that goes through every ring vertex (Recharts' basisClosed pulls them inwards)
const smoothClosed = (ctx: any) => {
  let pts: number[][] = [];
  return {
    areaStart() {},
    areaEnd() {},
    lineStart() {
      pts = [];
    },
    point(x: number, y: number) {
      pts.push([+x, +y]);
    },
    lineEnd() {
      const n = pts.length;
      if (!n) return;
      ctx.moveTo(pts[0][0], pts[0][1]);
      for (let i = 0; i < n; i++) {
        const p0 = pts[(i - 1 + n) % n];
        const p1 = pts[i];
        const p2 = pts[(i + 1) % n];
        const p3 = pts[(i + 2) % n];
        ctx.bezierCurveTo(p1[0] + (p2[0] - p0[0]) / 6, p1[1] + (p2[1] - p0[1]) / 6, p2[0] - (p3[0] - p1[0]) / 6, p2[1] - (p3[1] - p1[1]) / 6, p2[0], p2[1]);
      }
      ctx.closePath();
    },
  };
};

// plot positions on the page
const colLeft = [346, 1321, 2326];
const rowZero = [112, 468, 832];
const pxPerMetre = 21.25;
const topDepth = 0.25;

interface PanelProps {
  label: string;
  row: number;
  col: number;
  bg: string;
  rings: Ring[];
  boxes: Pt[][];
  faults?: Pt[][];
}

function Panel({ label, row, col, bg, rings, boxes, faults = [] }: PanelProps) {
  const pad = 16;
  const axisW = 100;
  const axisH = 80;
  const plotW = 818;
  const plotH = (8 + topDepth) * pxPerMetre;
  const notch = [[27.6, -5.7], [31, -5.7], [31, -9], [27.6, -9]];
  const tick = { fontFamily: serif, fontSize: 28, fill: textColor };
  return (
    <div style={{ position: "absolute", left: colLeft[col] - axisW - pad, top: rowZero[row] - topDepth * pxPerMetre - axisH - pad }}>
      <ScatterChart width={pad + axisW + plotW + 40} height={pad + axisH + plotH + 20} margin={{ top: pad, right: 40, bottom: 20, left: pad }}>
        <CartesianGrid horizontal={false} vertical={false} fill={FILL[bg]} fillOpacity={1} />
        <XAxis
          type="number"
          dataKey="x"
          orientation="top"
          domain={[0, 30]}
          ticks={xTicks}
          allowDataOverflow
          height={axisH}
          tickSize={12}
          tickMargin={6}
          tick={tick}
          stroke="#8a8a8a"
          strokeWidth={3}
          label={{ value: "Distance/m", position: "insideTop", offset: 0, dx: 11, dy: -2, style: { fontFamily: serif, fontSize: 29, fill: textColor } }}
        />
        <YAxis
          type="number"
          dataKey="y"
          domain={[-8, topDepth]}
          ticks={yTicks}
          allowDataOverflow
          width={axisW}
          tickSize={6}
          tickMargin={12}
          tick={tick}
          stroke="#9a9a9a"
          label={{ value: "Depth/m", angle: -90, position: "insideLeft", offset: 10, dy: 10, style: { fontFamily: serif, fontSize: 29, fill: textColor, textAnchor: "middle" } }}
        />
        {rings.map(([level, pts], i) => (
          <Scatter
            key={i}
            data={toPoints(pts)}
            shape={noMark}
            line={{ fill: FILL[level], stroke: FILL[level], strokeWidth: 1 }}
            lineType="joint"
            lineJointType={smoothClosed as any}
            isAnimationActive={false}
          />
        ))}
        <Scatter
          data={toPoints(notch)}
          shape={noMark}
          line={{ fill: "#fff", stroke: "#fff", strokeWidth: 1 }}
          lineType="joint"
          lineJointType="linearClosed"
          isAnimationActive={false}
        />
        {row > 0 && (
          <Scatter
            data={toPoints([[30, -5.7], [30, -8]])}
            shape={noMark}
            line={{ fill: "none", stroke: "#888", strokeWidth: 3 }}
            lineType="joint"
            isAnimationActive={false}
          />
        )}
        {boxes.map((pts, i) => (
          <Scatter
            key={`box${i}`}
            data={toPoints(pts)}
            shape={noMark}
            line={{ fill: "none", stroke: "#111", strokeWidth: 4, strokeDasharray: "6 8" }}
            lineType="joint"
            isAnimationActive={false}
          />
        ))}
        {faults.map((pts, i) => (
          <Scatter
            key={`fault${i}`}
            data={toPoints(pts)}
            shape={noMark}
            line={{ fill: "none", stroke: "#111", strokeWidth: 3.5 }}
            lineType="joint"
            isAnimationActive={false}
          />
        ))}
        <Scatter
          data={[{ x: 28.85, y: -7.1 }]}
          shape={(p: any) => (
            <text x={p.cx} y={p.cy} textAnchor="middle" dominantBaseline="middle" fontFamily={serif} fontSize={28} fill={textColor}>
              {label}
            </text>
          )}
          isAnimationActive={false}
        />
      </ScatterChart>
    </div>
  );
}

function Colorbar() {
  const row: Record<string, number | string> = { name: "ln" };
  colorbarSteps.forEach((v, i) => (row[`s${i}`] = v));
  return (
    <div style={{ position: "absolute", left: 3213, top: 242 }}>
      <BarChart width={150} height={719} data={[row]} barCategoryGap={0} margin={{ top: 16, right: 0, bottom: 16, left: 0 }}>
        <XAxis dataKey="name" hide />
        <YAxis
          orientation="right"
          type="number"
          domain={[4.4, 5.8]}
          ticks={colorbarTicks}
          allowDataOverflow
          width={110}
          axisLine={false}
          tickLine={false}
          tickMargin={16}
          tickFormatter={(v: number) => v.toFixed(1)}
          tick={{ fontFamily: serif, fontSize: 28, fill: textColor, textAnchor: "start" }}
        />
        {colorbarColors.map((c, i) => (
          <Bar key={c} dataKey={`s${i}`} stackId="band" fill={c} isAnimationActive={false} />
        ))}
      </BarChart>
    </div>
  );
}

export default function App() {
  return (
    <div style={{ position: "absolute", left: 0, top: 0, width: 3375, height: 1037, overflow: "hidden", background: "#fff", filter: "blur(1.2px)" }}>
      {modelNames.map((name, i) => (
        <div key={name} style={{ position: "absolute", left: 31, top: [212, 575, 930][i], fontFamily: serif, fontSize: 46, lineHeight: "60px", color: "#222" }}>
          {name}
        </div>
      ))}
      <Panel label="(a1)" row={0} col={0} bg="b1" rings={a1Rings} boxes={a1Boxes} />
      <Panel label="(a2)" row={0} col={1} bg="b1" rings={a2Rings} boxes={a2Boxes} />
      <Panel label="(a3)" row={0} col={2} bg="b1" rings={a3Rings} boxes={a3Boxes} />
      <Panel label="(b1)" row={1} col={0} bg="m" rings={b1Rings} boxes={b1Boxes} faults={b1Faults} />
      <Panel label="(b2)" row={1} col={1} bg="b1" rings={b2Rings} boxes={b2Boxes} faults={b2Faults} />
      <Panel label="(b3)" row={1} col={2} bg="m" rings={b3Rings} boxes={b3Boxes} faults={b3Faults} />
      <Panel label="(c1)" row={2} col={0} bg="m" rings={c1Rings} boxes={c1Boxes} />
      <Panel label="(c2)" row={2} col={1} bg="v3" rings={c2Rings} boxes={c2Boxes} />
      <Panel label="(c3)" row={2} col={2} bg="v3" rings={c3Rings} boxes={c3Boxes} />
      <div style={{ position: "absolute", left: 3222, top: 210, fontFamily: serif, fontSize: 28, color: textColor, whiteSpace: "nowrap" }}>
        ln(<i>ρ</i>)/Ω·m
      </div>
      <Colorbar />
    </div>
  );
}
